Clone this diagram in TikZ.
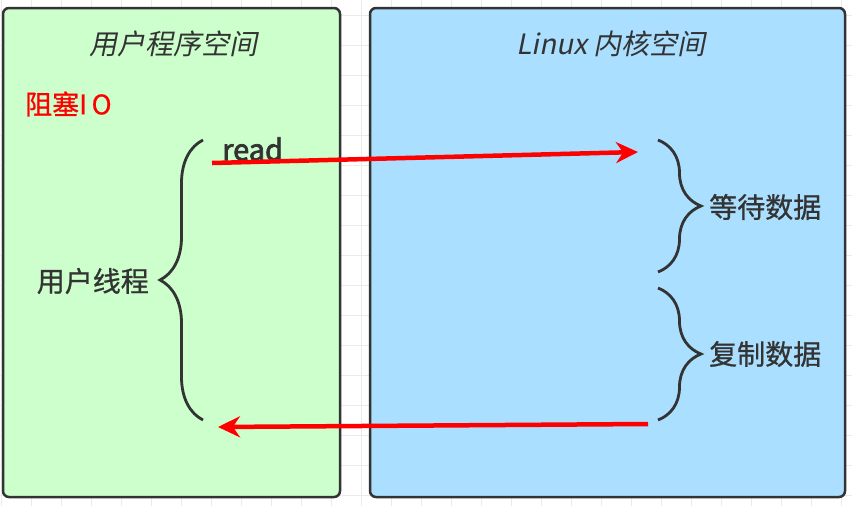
\documentclass[tikz,border=0pt]{standalone}
\usepackage{fontspec}
\setmainfont{Noto Sans CJK SC}[AutoFakeSlant=0.2, AutoFakeBold=2.5]
\newfontfamily\notefont{Noto Sans CJK SC}[FakeBold=0.8]
\usetikzlibrary{arrows.meta, decorations.pathreplacing, positioning}

\definecolor{usergreen}{HTML}{CCFFCC}
\definecolor{kernelblue}{HTML}{AADFFF}
\definecolor{edgegray}{HTML}{333333}
\definecolor{callred}{HTML}{FF0000}
\definecolor{gridgray}{HTML}{EBEBEB}

\begin{document}
\begin{tikzpicture}[
    x = 1pt, y = -1pt,
    font = \notefont\fontsize{28}{32}\selectfont,
    gridline/.style = {
      draw = gridgray, line width = 1pt,
    },
    space/.style = {
      rectangle,
      draw = edgegray, line width = 2.5pt,
      rounded corners = 6pt,
      minimum height = 489pt,
      inner sep = 0,
    },
    heading/.style = {
      text = edgegray,
      inner sep = 0,
      font = \fontsize{28}{32}\selectfont\itshape,
    },
    note/.style = {
      text = edgegray,
      inner sep = 0,
    },
    bracket/.style = {
      draw = edgegray, line width = 2.8pt,
      decorate, decoration = {brace, amplitude = 43pt},
    },
    call/.style = {
      draw = callred, line width = 4.5pt,
      -{Stealth[length = 22pt, width = 21pt]},
    },
  ]
  \useasboundingbox (0,0) rectangle (852,506);

  % background grid
  \foreach \gx in {1,31,...,841}
    \draw[gridline] (\gx,0) -- (\gx,506);
  \foreach \gy in {15,45,...,495}
    \draw[gridline] (0,\gy) -- (852,\gy);

  \node[space, fill = usergreen, minimum width = 337pt] (user) at (171.5,252.5) {};
  \node[space, fill = kernelblue, minimum width = 475pt] (kernel) at (607.5,252.5) {};

  \node[heading] (usertitle) at (173,44) {用户程序空间};
  \node[heading] (kerneltitle) at (611,44) {Linux 内核空间};

  \node[note, text = callred, anchor = west, font = \notefont\fontsize{27}{32}\selectfont] (blocking) at (25,104) {阻塞I\,O};
  \node[note, anchor = west, font = \fontsize{29}{32}\selectfont\bfseries] (read) at (222,149) {read};

  \node[note, anchor = east] (thread) at (149,281) {用户线程};
  \node[note, anchor = west] (wait) at (709,207) {等待数据};
  \node[note, anchor = west] (copy) at (709,354) {复制数据};

  \draw[bracket] (203,420) -- (203,140);
  \draw[bracket] (658,140) -- (658,272);
  \draw[bracket] (658,288) -- (658,420);

  \coordinate (readfrom) at (212,163);
  \coordinate (readto) at (638,152);
  \coordinate (copyfrom) at (648,424);
  \coordinate (copyto) at (218,427);

  \draw[call] (readfrom) -- (readto);
  \draw[call] (copyfrom) -- (copyto);

\end{tikzpicture}
\end{document}
